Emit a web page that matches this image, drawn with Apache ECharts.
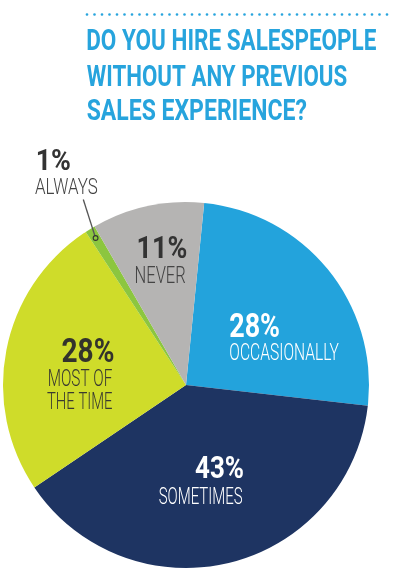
<!DOCTYPE html>
<html><head><meta charset="utf-8">
<script src="https://cdn.jsdelivr.net/npm/echarts@6/dist/echarts.min.js"></script>
<style>html,body{margin:0;padding:0;background:#fff}#c{width:393px;height:573px}</style>
</head><body><div id="c"></div>
<script>
// ---- data ----
const titleLines = ['DO YOU HIRE SALESPEOPLE', 'WITHOUT ANY PREVIOUS', 'SALES EXPERIENCE?'];
const categories = ['OCCASIONALLY', 'SOMETIMES', 'MOST OF\nTHE TIME', 'ALWAYS', 'NEVER'];
const values = [28, 43, 28, 1, 11];
const percentLabels = values.map(v => v + '%');

// ---- styling / layout ----
const sliceColors = ['#23a3dc', '#1e3462', '#cfdc2a', '#8cc63f', '#b5b4b3'];
const pctColors = ['#ffffff', '#ffffff', '#33332c', '#333333', '#333333'];
const nameColors = ['#ffffff', '#ffffff', '#3a3a30', '#444444', '#444444'];
const titleColor = '#27a4dd';
const PIE = { cx: 186, cy: 385, r: 183, startAngle: 84.3 };
// ink boxes: [left, top, capHeight, width]
const pctBoxes = [[230, 313, 24, 49], [195, 456, 23.5, 48.3], [62.3, 337.5, 24, 51], [37.5, 148.5, 21.5, 32.5], [138.3, 235.5, 23, 48.4]];
const nameBoxes = [[[230, 343, 17, 109]], [[159.3, 487, 17.3, 83.4]], [[49, 369, 17.5, 63], [47, 392, 17.5, 65]], [[35, 178, 16.3, 62.7]], [[136, 266, 17, 49]]];
const titleBoxes = [[87, 29, 21.5, 289], [86.7, 65, 21, 260], [86.7, 99, 21, 220]];
const FAMILY = 'Roboto';

const mctx = document.createElement('canvas').getContext('2d');
function fitText(str, box, weight, color) {
  const [L, top, cap, W] = box;
  const test = 100;
  mctx.textAlign = 'left';
  mctx.textBaseline = 'alphabetic';
  mctx.font = weight + ' ' + test + 'px ' + FAMILY;
  let m = mctx.measureText(str);
  const size = cap * test / m.actualBoundingBoxAscent;
  mctx.font = weight + ' ' + size + 'px ' + FAMILY;
  mctx.textBaseline = 'middle';
  m = mctx.measureText(str);
  const inkW = m.actualBoundingBoxLeft + m.actualBoundingBoxRight;
  const s = W / inkW;
  return {
    type: 'text', silent: true, z: 100,
    x: L + m.actualBoundingBoxLeft * s, y: top + m.actualBoundingBoxAscent, scaleX: s,
    style: { text: str, fontSize: size, fontWeight: weight, fontFamily: FAMILY, fill: color, align: 'left', verticalAlign: 'middle' }
  };
}

const graphics = [];
// dotted rule above the title
graphics.push({
  type: 'line', silent: true,
  shape: { x1: 87, y1: 14.5, x2: 388, y2: 14.5 },
  style: { stroke: titleColor, lineWidth: 2.7, lineDash: [0, 7.5], lineCap: 'round' }
});
titleLines.forEach((t, i) => graphics.push(fitText(t, titleBoxes[i], 700, titleColor)));
categories.forEach((c, i) => {
  graphics.push(fitText(percentLabels[i], pctBoxes[i], 700, pctColors[i]));
  c.split('\n').forEach((ln, j) => graphics.push(fitText(ln, nameBoxes[i][j], 300, nameColors[i])));
});

// leader for the smallest slice (ALWAYS), anchored at its mid-angle computed from the data
const total = values.reduce((a, b) => a + b, 0);
const ai = categories.indexOf('ALWAYS');
const before = values.slice(0, ai).reduce((a, b) => a + b, 0);
const theta = (PIE.startAngle - (before + values[ai] / 2) / total * 360) * Math.PI / 180;
const rr = PIE.r * 0.943;
const px = PIE.cx + rr * Math.cos(theta), py = PIE.cy - rr * Math.sin(theta);
graphics.push({ type: 'line', silent: true, z: 90, shape: { x1: 83.3, y1: 199.5, x2: px, y2: py }, style: { stroke: '#555555', lineWidth: 1.3 } });
graphics.push({ type: 'circle', silent: true, z: 91, shape: { cx: px, cy: py, r: 2.4 }, style: { fill: sliceColors[ai], stroke: '#333333', lineWidth: 1.1 } });

const chart = echarts.init(document.getElementById('c'), null, { renderer: 'canvas', width: 393, height: 573 });
chart.setOption({
  animation: false,
  backgroundColor: '#ffffff',
  series: [{
    type: 'pie', silent: true,
    center: [PIE.cx, PIE.cy], radius: [0, PIE.r],
    startAngle: PIE.startAngle, clockwise: true, avoidLabelOverlap: false,
    label: { show: false }, labelLine: { show: false },
    itemStyle: { borderWidth: 0 }, emphasis: { disabled: true },
    data: categories.map((c, i) => ({ name: c, value: values[i], itemStyle: { color: sliceColors[i] } }))
  }],
  graphic: graphics
});
</script>
</body></html>
